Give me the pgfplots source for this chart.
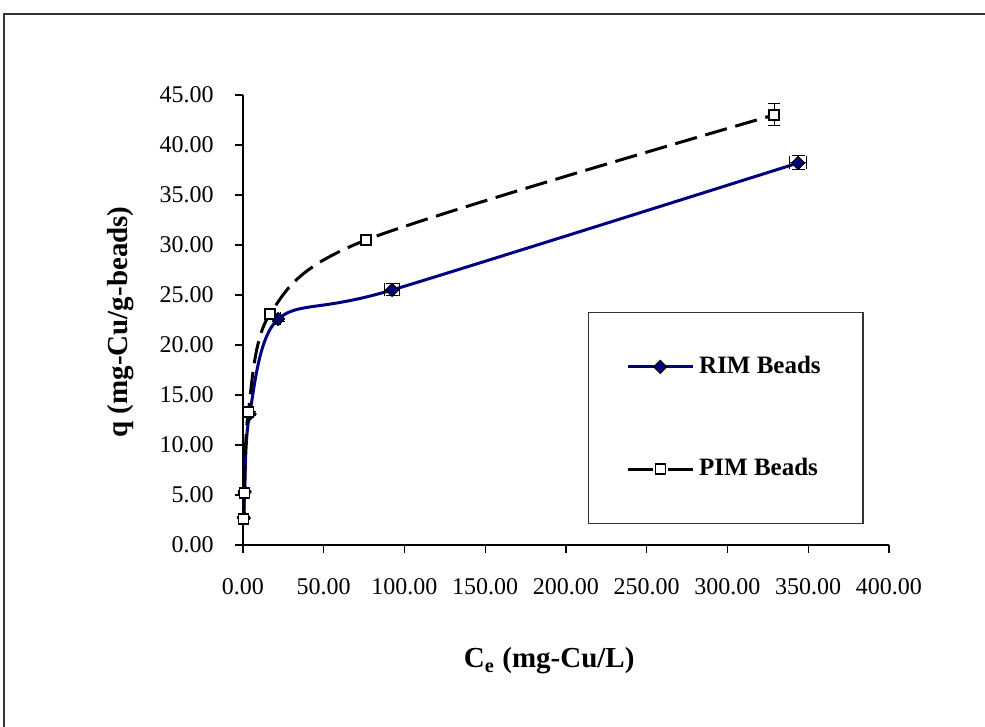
\documentclass[border=0pt]{standalone}
\usepackage{pgfplots}
\pgfplotsset{compat=1.18}
\usepackage{fontspec}
\setmainfont{Liberation Serif}
\definecolor{rimblue}{RGB}{0,0,128}
\begin{document}
\begin{tikzpicture}
\useasboundingbox (-97.2pt,-72.8pt) rectangle (296.8pt,218pt);
\draw[line width=0.8pt, gray!40!black] (-95.4pt,-80pt) -- (-95.4pt,212.2pt) -- (300pt,212.2pt);
\begin{axis}[
  at={(0pt,0pt)}, anchor=south west,
  scale only axis, width=258.4pt, height=180pt,
  xmin=0, xmax=400, ymin=0, ymax=45,
  axis x line*=bottom, axis y line*=left,
  axis line style={line width=0.5pt},
  tick align=outside, major tick length=3.2pt,
  tick style={black, line width=0.5pt},
  xtick={0,50,...,400}, ytick={0,5,...,45},
  clip=false,
  ticklabel style={font=\fontsize{9.6}{11}\selectfont},
  xticklabel style={yshift=-6.8pt, /pgf/number format/.cd, fixed, fixed zerofill, precision=2, assume math mode=true},
  yticklabel style={xshift=-5pt, /pgf/number format/.cd, fixed, fixed zerofill, precision=2, assume math mode=true},
  xlabel={\textbf{C\textsubscript{e} (mg-Cu/L)}},
  ylabel={\textbf{q (mg-Cu/g-beads)}},
  label style={font=\fontsize{11.6}{13}\selectfont},
  xlabel style={at={(axis description cs:0.474,0)}, anchor=base, yshift=-49.2pt},
  ylabel style={at={(axis description cs:0,0.4956)}, anchor=base, yshift=46pt},
  legend style={at={(0.534,0.518)}, anchor=north west, draw=gray!40!black, line width=0.6pt,
    font=\bfseries\fontsize{10}{12}\selectfont, inner xsep=15pt, inner ysep=15.5pt, row sep=28.4pt},
  legend cell align=left,
  legend image code/.code={\draw[mark repeat=2,mark phase=2,#1] plot coordinates {(0pt,0pt) (13pt,0pt) (26pt,0pt)};},
]
\addplot[rimblue, line width=1.2pt, smooth, mark=square*, mark size=1.8pt,
  mark options={rotate=45, solid, fill=rimblue, draw=black, line width=0.5pt},
  error bars/.cd, x dir=both, y dir=both, x explicit, y explicit,
  error bar style={black, line width=0.4pt, solid},
  error mark options={rotate=90, black, mark size=2.6pt, line width=0.4pt, solid}]
  table[x=x, y=y, x error=ex, y error=ey] {
x y ex ey
0.6 2.7 0.3 0.1
1.0 5.3 0.3 0.1
4.1 13.1 0.3 0.2
21.8 22.6 1.5 0.3
92.3 25.5 4.5 0.6
343.7 38.2 5.0 0.7
};
\addlegendentry{RIM Beads}
\addplot[black, line width=1.2pt, smooth, dash pattern=on 9pt off 3.5pt, mark=square*, mark size=2pt,
  mark options={solid, fill=white, draw=black, line width=0.5pt},
  legend image post style={dash pattern=on 10pt off 6pt on 10pt off 0pt},
  error bars/.cd, x dir=both, y dir=both, x explicit, y explicit,
  error bar style={black, line width=0.4pt, solid},
  error mark options={rotate=90, black, mark size=2.4pt, line width=0.4pt, solid}]
  table[x=x, y=y, x error=ex, y error=ey] {
x y ex ey
0.5 2.6 0.3 0.1
0.8 5.2 0.3 0.1
3.3 13.3 0.3 0.2
16.7 23.1 0.5 0.2
76.2 30.5 2.0 0.3
328.8 43.0 3.0 1.1
};
\addlegendentry{PIM Beads}
\end{axis}
\end{tikzpicture}
\end{document}
